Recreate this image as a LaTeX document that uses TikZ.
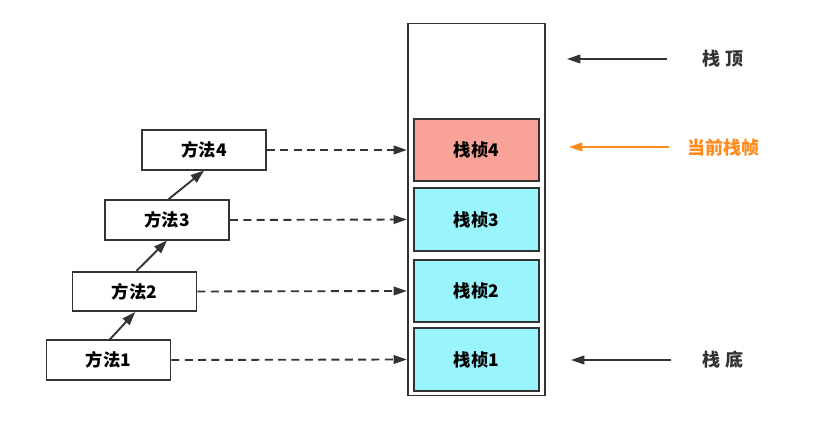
\documentclass[tikz,border=0pt]{standalone}
\usepackage{xcolor}
\usepackage{fontspec}
\usepackage{tikz}
\usetikzlibrary{arrows.meta, positioning}
\newfontfamily\cjk{Noto Sans CJK SC}
\definecolor{sfLine}{HTML}{333333}
\definecolor{sfCur}{HTML}{F9A398}
\definecolor{sfOld}{HTML}{9AF4FD}
\definecolor{sfOrange}{HTML}{FF8A1C}

\begin{document}
\begin{tikzpicture}[x=0.75pt, y=-0.75pt,
  method/.style={draw=sfLine, line width=1.4pt, fill=white, minimum width=93pt,
                 minimum height=29.5pt, inner sep=0pt, font=\cjk\bfseries\fontsize{13}{15}\selectfont},
  frame/.style={draw=sfLine, line width=1.4pt, minimum width=94pt,
                minimum height=47pt, inner sep=0pt, font=\cjk\bfseries\fontsize{13}{15}\selectfont},
  sidelabel/.style={font=\cjk\bfseries\fontsize{13.5}{15}\selectfont, inner sep=0pt},
  call/.style={draw=sfLine, line width=1.4pt, -{Triangle[length=10pt,width=7pt]}},
  link/.style={draw=sfLine, line width=1.4pt, dash pattern=on 6pt off 4pt,
               -{Triangle[length=10pt,width=6.5pt]}},
  pointer/.style={line width=1.4pt, -{Triangle[length=10pt,width=6.5pt]}},
]
  \useasboundingbox (0,0) rectangle (819,424);

  % STACK
  \node[draw=sfLine, line width=1.4pt, minimum width=103pt, minimum height=279pt,
        inner sep=0pt] (stack) at (476.5,209.5) {};
  \node[frame, fill=sfCur] (f4) at (476.5,150) {栈桢4};
  \node[frame, fill=sfOld] (f3) at (476.5,219.5) {栈桢3};
  \node[frame, fill=sfOld] (f2) at (476.5,291) {栈桢2};
  \node[frame, fill=sfOld] (f1) at (476.5,359.5) {栈桢1};

  % METHODS
  \node[method] (m4) at (204,150) {方法4};
  \node[method] (m3) at (167,220) {方法3};
  \node[method] (m2) at (134.5,291.5) {方法2};
  \node[method] (m1) at (108.5,360) {方法1};

  \draw[call] ([xshift=1pt]m1.north) -- ([xshift=0.5pt]m2.south);
  \draw[call] ([xshift=1.5pt]m2.north) -- (m3.south);
  \draw[call] ([xshift=1pt]m3.north) -- (m4.south);

  \draw[link] (m4.east) -- (f4.west -| stack.west);
  \draw[link] (m3.east) -- (f3.west -| stack.west);
  \draw[link] (m2.east) -- (f2.west -| stack.west);
  \draw[link] (m1.east) -- (f1.west -| stack.west);

  % LABELS
  \node[sidelabel, text=sfLine] (top) at (723,59) {栈\hspace{0.3em}顶};
  \node[sidelabel, text=sfOrange] (cur) at (723,148) {当前栈帧};
  \node[sidelabel, text=sfLine] (bottom) at (723,360) {栈\hspace{0.3em}底};
  \coordinate (topTip) at (567,59);
  \coordinate (curTip) at (569,147);
  \coordinate (bottomTip) at (571,360);
  \draw[pointer, draw=sfLine] ([xshift=-26pt]top.west) -- (topTip);
  \draw[pointer, draw=sfOrange] ([xshift=-13pt]cur.west |- curTip) -- (curTip);
  \draw[pointer, draw=sfLine] ([xshift=-23pt]bottom.west) -- (bottomTip);
\end{tikzpicture}
\end{document}
